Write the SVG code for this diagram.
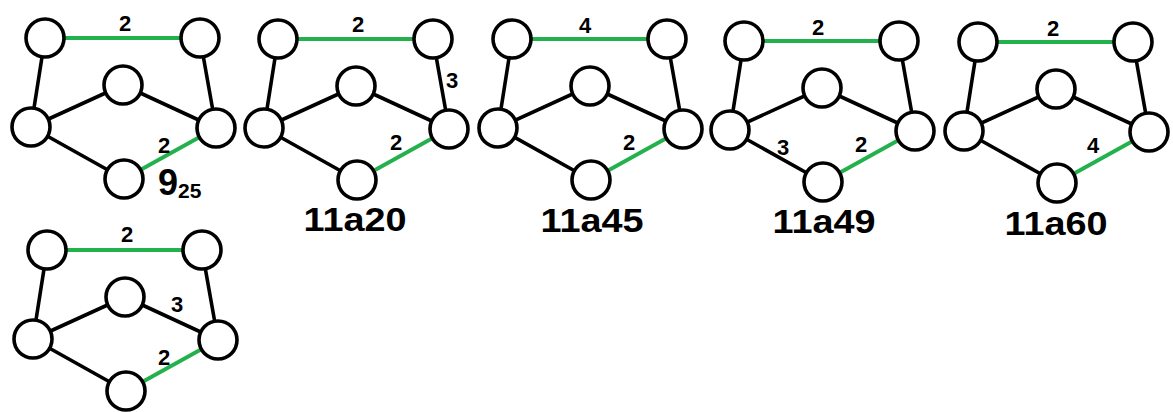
<svg xmlns="http://www.w3.org/2000/svg" width="1173" height="412" viewBox="0 0 1173 412">
<style>
.n{fill:#fff;stroke:#000;stroke-width:3.6}
.k{stroke:#000;stroke-width:3.6;stroke-linecap:round}
.g{stroke:#22b14c;stroke-width:3.8}
.l{font-family:"Liberation Sans",Arial,sans-serif;font-weight:bold;font-size:22px;text-anchor:middle;fill:#000}
.t{font-family:"Liberation Sans",Arial,sans-serif;font-weight:bold;font-size:34px;text-anchor:middle;fill:#000}
</style>
<rect width="1173" height="412" fill="#fff"/>
<defs>
<g id="edges">
<line class="g" x1="0" y1="0" x2="155" y2="0"/>
<line class="k" x1="0" y1="0" x2="-14" y2="89"/>
<line class="k" x1="155" y1="0" x2="171" y2="90"/>
<line class="k" x1="-14" y1="89" x2="78" y2="47"/>
<line class="k" x1="78" y1="47" x2="171" y2="90"/>
<line class="k" x1="-14" y1="89" x2="79" y2="141"/>
<line class="g" x1="79" y1="141" x2="171" y2="90"/>
</g>
</defs>
<g id="connectors">
<use href="#edges" transform="translate(45,38)"/>
<use href="#edges" transform="translate(278,39)"/>
<use href="#edges" transform="translate(512,39)"/>
<use href="#edges" transform="translate(744,41)"/>
<use href="#edges" transform="translate(978,42)"/>
<use href="#edges" transform="translate(47,250)"/>
</g>
<g id="graph1" transform="translate(45,38)">
<g id="g1-tl"><circle class="n" cx="0" cy="0" r="19"/></g>
<g id="g1-tr"><circle class="n" cx="155" cy="0" r="19"/></g>
<g id="g1-m"><circle class="n" cx="78" cy="47" r="19"/></g>
<g id="g1-l"><circle class="n" cx="-14" cy="89" r="19"/></g>
<g id="g1-r"><circle class="n" cx="171" cy="90" r="19"/></g>
<g id="g1-b"><circle class="n" cx="79" cy="141" r="19"/></g>
<text class="l" x="80" y="-7">2</text>
<text class="l" x="119" y="115">2</text>
<text x="113" y="157" style="font-family:'Liberation Sans',Arial,sans-serif;font-weight:bold;fill:#000"><tspan font-size="36">9</tspan><tspan font-size="21" dy="3">25</tspan></text>
</g>
<g id="graph2" transform="translate(278,39)">
<g id="g2-tl"><circle class="n" cx="0" cy="0" r="19"/></g>
<g id="g2-tr"><circle class="n" cx="155" cy="0" r="19"/></g>
<g id="g2-m"><circle class="n" cx="78" cy="47" r="19"/></g>
<g id="g2-l"><circle class="n" cx="-14" cy="89" r="19"/></g>
<g id="g2-r"><circle class="n" cx="171" cy="90" r="19"/></g>
<g id="g2-b"><circle class="n" cx="79" cy="141" r="19"/></g>
<text class="l" x="80" y="-7">2</text>
<text class="l" x="174" y="49">3</text>
<text class="l" x="118" y="111">2</text>
<text class="t" x="77" y="192" textLength="103" lengthAdjust="spacingAndGlyphs">11a20</text>
</g>
<g id="graph3" transform="translate(512,39)">
<g id="g3-tl"><circle class="n" cx="0" cy="0" r="19"/></g>
<g id="g3-tr"><circle class="n" cx="155" cy="0" r="19"/></g>
<g id="g3-m"><circle class="n" cx="78" cy="47" r="19"/></g>
<g id="g3-l"><circle class="n" cx="-14" cy="89" r="19"/></g>
<g id="g3-r"><circle class="n" cx="171" cy="90" r="19"/></g>
<g id="g3-b"><circle class="n" cx="79" cy="141" r="19"/></g>
<text class="l" x="73" y="-6">4</text>
<text class="l" x="117" y="111">2</text>
<text class="t" x="80" y="193" textLength="103" lengthAdjust="spacingAndGlyphs">11a45</text>
</g>
<g id="graph4" transform="translate(744,41)">
<g id="g4-tl"><circle class="n" cx="0" cy="0" r="19"/></g>
<g id="g4-tr"><circle class="n" cx="155" cy="0" r="19"/></g>
<g id="g4-m"><circle class="n" cx="78" cy="47" r="19"/></g>
<g id="g4-l"><circle class="n" cx="-14" cy="89" r="19"/></g>
<g id="g4-r"><circle class="n" cx="171" cy="90" r="19"/></g>
<g id="g4-b"><circle class="n" cx="79" cy="141" r="19"/></g>
<text class="l" x="74" y="-6">2</text>
<text class="l" x="39" y="114">3</text>
<text class="l" x="117" y="111">2</text>
<text class="t" x="80" y="192" textLength="103" lengthAdjust="spacingAndGlyphs">11a49</text>
</g>
<g id="graph5" transform="translate(978,42)">
<g id="g5-tl"><circle class="n" cx="0" cy="0" r="19"/></g>
<g id="g5-tr"><circle class="n" cx="155" cy="0" r="19"/></g>
<g id="g5-m"><circle class="n" cx="78" cy="47" r="19"/></g>
<g id="g5-l"><circle class="n" cx="-14" cy="89" r="19"/></g>
<g id="g5-r"><circle class="n" cx="171" cy="90" r="19"/></g>
<g id="g5-b"><circle class="n" cx="79" cy="141" r="19"/></g>
<text class="l" x="75" y="-6">2</text>
<text class="l" x="115" y="111">4</text>
<text class="t" x="78" y="193" textLength="103" lengthAdjust="spacingAndGlyphs">11a60</text>
</g>
<g id="graph6" transform="translate(47,250)">
<g id="g6-tl"><circle class="n" cx="0" cy="0" r="19"/></g>
<g id="g6-tr"><circle class="n" cx="155" cy="0" r="19"/></g>
<g id="g6-m"><circle class="n" cx="78" cy="47" r="19"/></g>
<g id="g6-l"><circle class="n" cx="-14" cy="89" r="19"/></g>
<g id="g6-r"><circle class="n" cx="171" cy="90" r="19"/></g>
<g id="g6-b"><circle class="n" cx="79" cy="141" r="19"/></g>
<text class="l" x="80" y="-8">2</text>
<text class="l" x="130" y="62">3</text>
<text class="l" x="117" y="115">2</text>
</g>
</svg>
